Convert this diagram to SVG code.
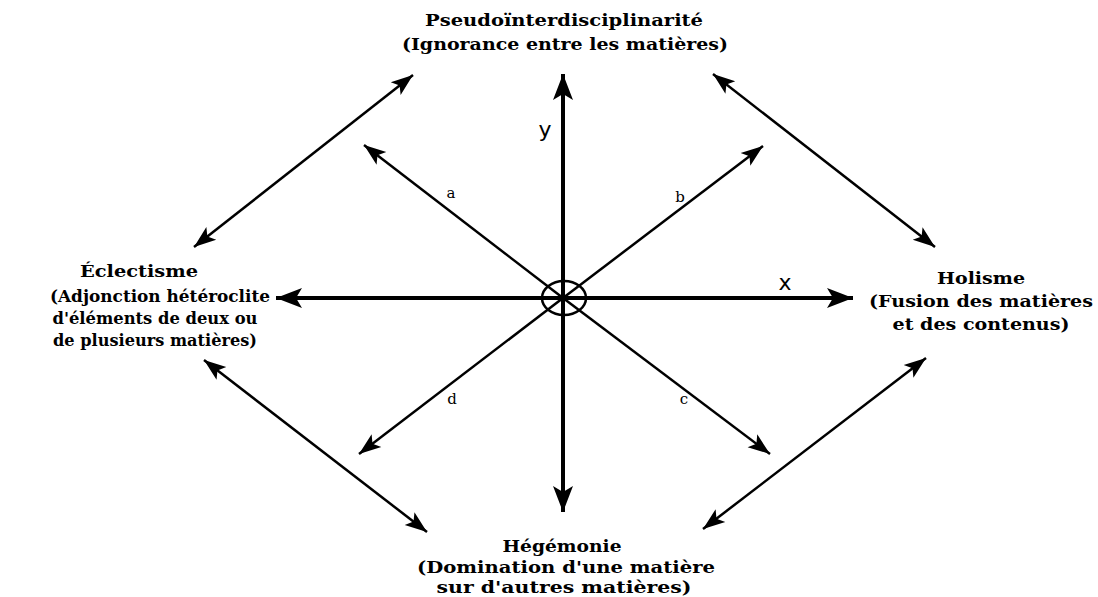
<svg xmlns="http://www.w3.org/2000/svg" width="1098" height="597" viewBox="0 0 1098 597">
<style>
.t{font-family:"DejaVu Serif","Liberation Serif",serif;font-weight:bold;font-size:16.5px;fill:#000;text-anchor:middle}
.l{font-family:"DejaVu Serif","Liberation Serif",serif;font-size:15px;fill:#000;text-anchor:middle}
.ax{font-family:"DejaVu Sans","Liberation Sans",sans-serif;font-size:22px;fill:#000;text-anchor:middle}
.axis{stroke:#000;stroke-width:4;fill:none}
.ln{stroke:#000;stroke-width:2.5;fill:none}
</style>
<defs>
<marker id="ah" markerUnits="userSpaceOnUse" markerWidth="24" markerHeight="18" refX="22" refY="8" orient="auto-start-reverse" viewBox="0 0 24 16">
<path d="M0,0 L22,8 L0,16 L5,8 Z" fill="#000"/>
</marker>
<marker id="ahb" markerUnits="userSpaceOnUse" markerWidth="28" markerHeight="22" refX="26" refY="10" orient="auto-start-reverse" viewBox="0 0 28 20">
<path d="M0,0 L26,10 L0,20 L6,10 Z" fill="#000"/>
</marker>
</defs>
<rect width="1098" height="597" fill="#fff"/>
<g id="connectors">
<line class="axis" x1="563" y1="512" x2="563" y2="74" marker-start="url(#ahb)" marker-end="url(#ahb)"/>
<line class="axis" x1="276" y1="298" x2="853" y2="298" marker-start="url(#ahb)" marker-end="url(#ahb)"/>
<line class="ln" x1="563" y1="298" x2="364" y2="145" marker-end="url(#ah)"/>
<line class="ln" x1="563" y1="298" x2="763" y2="146" marker-end="url(#ah)"/>
<line class="ln" x1="563" y1="298" x2="770" y2="454" marker-end="url(#ah)"/>
<line class="ln" x1="563" y1="298" x2="359" y2="454" marker-end="url(#ah)"/>
<line class="ln" x1="194" y1="247" x2="413" y2="75" marker-start="url(#ah)" marker-end="url(#ah)"/>
<line class="ln" x1="713" y1="74" x2="935" y2="247" marker-start="url(#ah)" marker-end="url(#ah)"/>
<line class="ln" x1="204" y1="360" x2="427" y2="532" marker-start="url(#ah)" marker-end="url(#ah)"/>
<line class="ln" x1="926" y1="358" x2="703" y2="529" marker-start="url(#ah)" marker-end="url(#ah)"/>
<ellipse cx="564" cy="298" rx="22" ry="17" class="ln"/>
<text class="l" x="451" y="198">a</text>
<text class="l" x="680" y="202">b</text>
<text class="l" x="684" y="404">c</text>
<text class="l" x="452" y="404">d</text>
<text class="ax" x="545" y="137">y</text>
<text class="ax" x="785" y="290">x</text>
</g>
<g id="node-top">
<text class="t" x="564" y="26" textLength="278" lengthAdjust="spacingAndGlyphs">Pseudoïnterdisciplinarité</text>
<text class="t" x="565" y="50" textLength="326" lengthAdjust="spacingAndGlyphs">(Ignorance entre les matières)</text>
</g>
<g id="node-left">
<text class="t" x="139" y="277" textLength="118" lengthAdjust="spacingAndGlyphs">Éclectisme</text>
<text class="t" x="160" y="302" textLength="220" lengthAdjust="spacingAndGlyphs">(Adjonction hétéroclite</text>
<text class="t" x="155" y="324" textLength="205" lengthAdjust="spacingAndGlyphs">d'éléments de deux ou</text>
<text class="t" x="155" y="346" textLength="204" lengthAdjust="spacingAndGlyphs">de plusieurs matières)</text>
</g>
<g id="node-right">
<text class="t" x="981" y="284" textLength="88" lengthAdjust="spacingAndGlyphs">Holisme</text>
<text class="t" x="981" y="307" textLength="224" lengthAdjust="spacingAndGlyphs">(Fusion des matières</text>
<text class="t" x="981" y="330" textLength="177" lengthAdjust="spacingAndGlyphs">et des contenus)</text>
</g>
<g id="node-bottom">
<text class="t" x="562" y="552" textLength="119" lengthAdjust="spacingAndGlyphs">Hégémonie</text>
<text class="t" x="566" y="573" textLength="298" lengthAdjust="spacingAndGlyphs">(Domination d'une matière</text>
<text class="t" x="564" y="593" textLength="255" lengthAdjust="spacingAndGlyphs">sur d'autres matières)</text>
</g>
</svg>
